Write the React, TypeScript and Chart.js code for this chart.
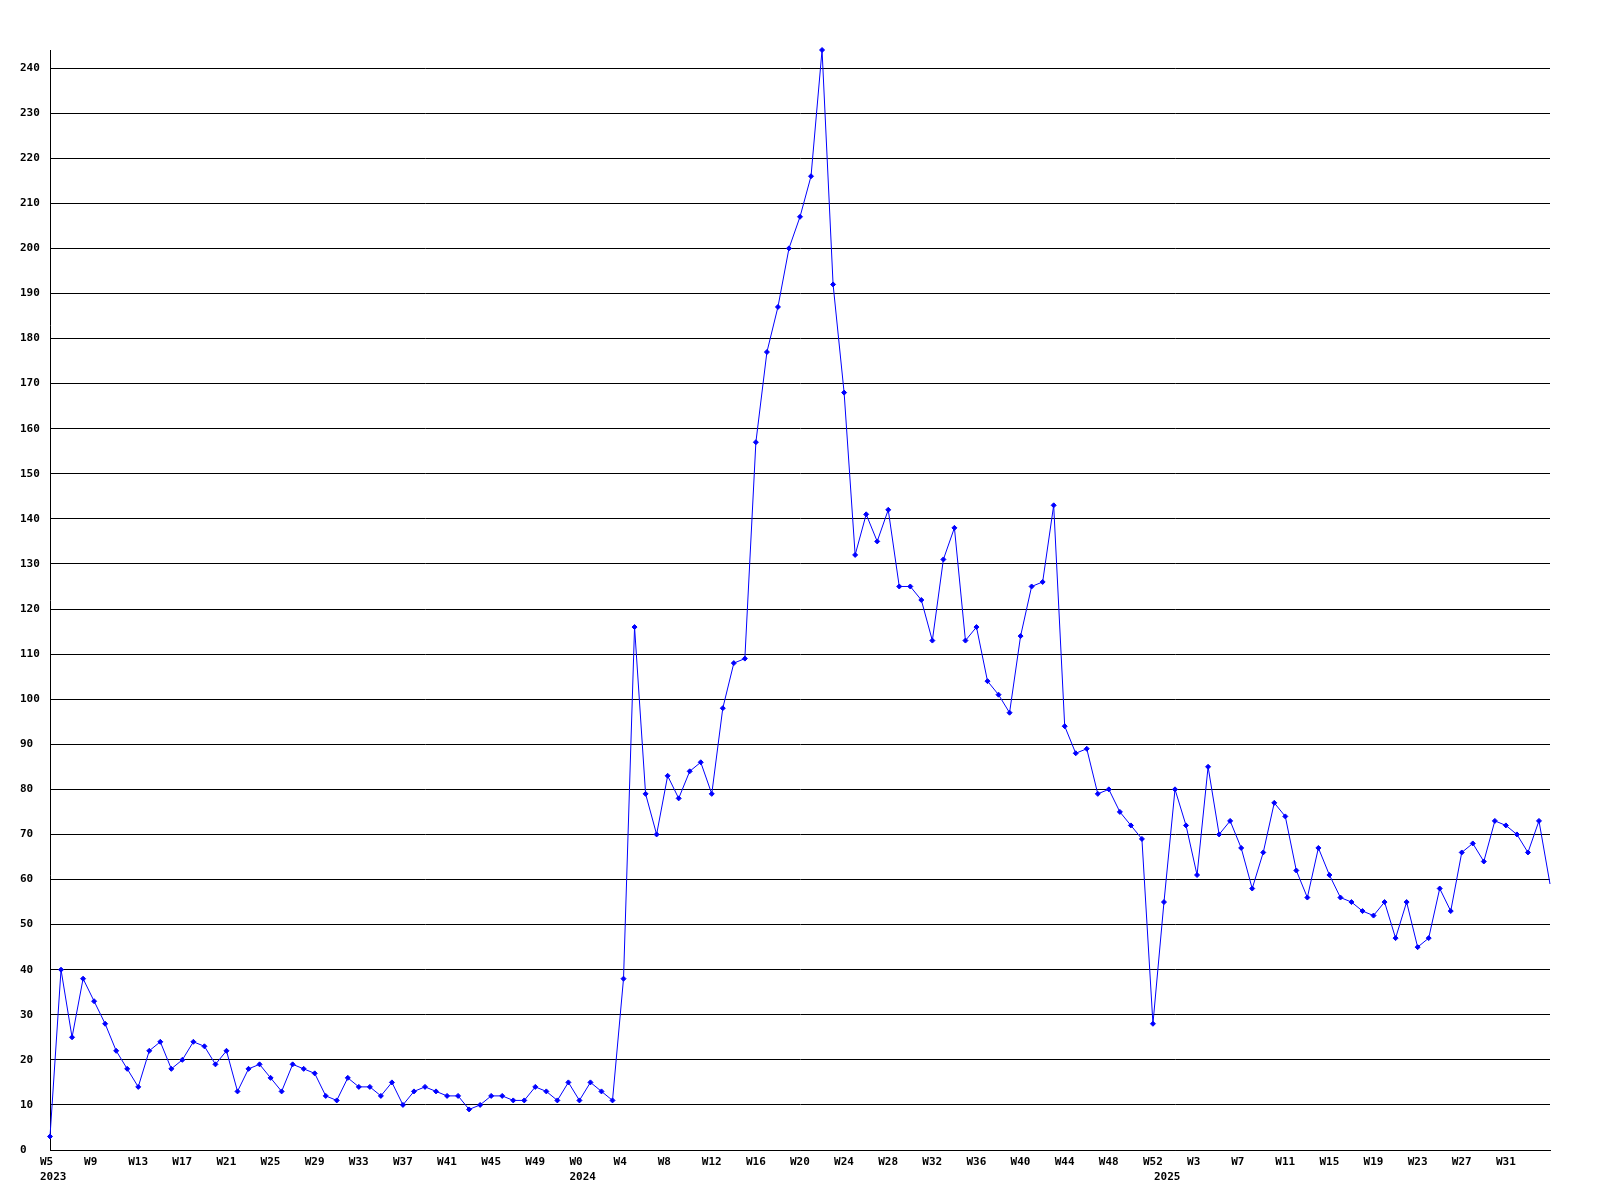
import { useEffect, useRef } from 'react';
import { Chart, registerables, CategoryScale } from 'chart.js';

Chart.register(...registerables);

// Week numbers per year (one point per week)
const weeks2023 = [5, 6, 7, 8, 9, 10, 11, 12, 13, 14, 15, 16, 17, 18, 19, 20, 21, 22, 23, 24, 25, 26, 27, 28, 29, 30, 31, 32, 33, 34, 35, 36, 37, 38, 39, 40, 41, 42, 43, 44, 45, 46, 47, 48, 49, 50, 51, 52];
const weeks2024 = [0, 1, 2, 3, 4, 5, 6, 7, 8, 9, 10, 11, 12, 13, 14, 15, 16, 17, 18, 19, 20, 21, 22, 23, 24, 25, 26, 27, 28, 29, 30, 31, 32, 33, 34, 35, 36, 37, 38, 39, 40, 41, 42, 43, 44, 45, 46, 47, 48, 49, 50, 51, 52];
const weeks2025 = [0, 1, 2, 3, 4, 5, 6, 7, 8, 9, 10, 11, 12, 13, 14, 15, 16, 17, 18, 19, 20, 21, 22, 23, 24, 25, 26, 27, 28, 29, 30, 31, 32, 33, 34, 35];

const years = ['2023', '2024', '2025'];

const values2023 = [3, 40, 25, 38, 33, 28, 22, 18, 14, 22, 24, 18, 20, 24, 23, 19, 22, 13, 18, 19, 16, 13, 19, 18, 17, 12, 11, 16, 14, 14, 12, 15, 10, 13, 14, 13, 12, 12, 9, 10, 12, 12, 11, 11, 14, 13, 11, 15];
const values2024 = [11, 15, 13, 11, 38, 116, 79, 70, 83, 78, 84, 86, 79, 98, 108, 109, 157, 177, 187, 200, 207, 216, 244, 192, 168, 132, 141, 135, 142, 125, 125, 122, 113, 131, 138, 113, 116, 104, 101, 97, 114, 125, 126, 143, 94, 88, 89, 79, 80, 75, 72, 69, 28];
const values2025 = [55, 80, 72, 61, 85, 70, 73, 67, 58, 66, 77, 74, 62, 56, 67, 61, 56, 55, 53, 52, 55, 47, 55, 45, 47, 58, 53, 66, 68, 64, 73, 72, 70, 66, 73, 59];

const yMax = 244;
const yStep = 10;
const labelEvery = 4;

const weekBlocks = [weeks2023, weeks2024, weeks2025];
const categories: string[] = [];
const weekOfIndex: number[] = [];
const yearStartLabel: Record<number, string> = {};
weekBlocks.forEach((block, bi) => {
  yearStartLabel[categories.length] = years[bi];
  block.forEach((w) => {
    categories.push(`${years[bi]}-W${w}`);
    weekOfIndex.push(w);
  });
});
const values = [...values2023, ...values2024, ...values2025];
const lastIndex = values.length - 1;

class ShiftedCategoryScale extends CategoryScale {
  static id = 'shiftedCategory';
  static defaults = (CategoryScale as any).defaults;
  _computeLabelItems(chartArea: any) {
    const items = (super._computeLabelItems as any)(chartArea);
    for (const it of items) {
      const t = it.options.translation;
      it.options.translation = [t[0] - 10, t[1]];
    }
    return items;
  }
}
Chart.register(ShiftedCategoryScale as any);

const font = {
  family: '"DejaVu Sans Mono", "Liberation Mono", monospace',
  size: 11,
  weight: 'bold' as const,
  lineHeight: '15px',
};

export default function App() {
  const ref = useRef<HTMLCanvasElement | null>(null);
  useEffect(() => {
    document.body.style.margin = '0';
    const canvas = ref.current;
    if (!canvas) return;
    const chart = new Chart(canvas, {
      type: 'line',
      data: {
        labels: categories,
        datasets: [
          {
            data: values,
            borderColor: '#0000ff',
            backgroundColor: '#0000ff',
            borderWidth: 1,
            tension: 0,
            fill: false,
            pointStyle: 'rectRot',
            pointRadius: (ctx: any) => (ctx.dataIndex === lastIndex ? 0 : 2.5),
            pointBorderWidth: 1,
            pointBackgroundColor: '#0000ff',
            pointBorderColor: '#0000ff',
            clip: false as any,
          },
        ],
      },
      options: {
        animation: false,
        responsive: false,
        maintainAspectRatio: false,
        devicePixelRatio: 1,
        layout: { padding: { top: 50, right: 50, left: 20, bottom: 0 } },
        plugins: { legend: { display: false }, tooltip: { enabled: false }, title: { display: false } },
        scales: {
          x: {
            type: 'shiftedCategory' as any,
            offset: false,
            grid: { display: false, drawTicks: false },
            border: { display: true, color: '#000000', width: 1 },
            ticks: {
              autoSkip: false,
              maxRotation: 0,
              minRotation: 0,
              align: 'start',
              padding: 5,
              color: '#000000',
              font,
              callback: (_v: any, i: number) => {
                const lines: string[] = [];
                const wk = i % labelEvery === 0 && i !== lastIndex ? `W${weekOfIndex[i]}` : '';
                const yr = yearStartLabel[i];
                if (yr) return [wk, yr];
                return wk;
              },
            },
            afterFit: (scale: any) => {
              scale.height = 50;
            },
          } as any,
          y: {
            type: 'linear',
            min: 0,
            max: yMax,
            grid: { display: true, color: '#000000', lineWidth: 1, drawTicks: false },
            border: { display: true, color: '#000000', width: 1 },
            ticks: {
              stepSize: yStep,
              includeBounds: false,
              crossAlign: 'far',
              padding: 10,
              color: '#000000',
              font,
            },
            afterFit: (scale: any) => {
              scale.width = 30;
            },
          } as any,
        },
      },
    });
    return () => chart.destroy();
  }, []);
  return (
    <div style={{ position: 'absolute', left: 0, top: 0, width: 1600, height: 1200, background: '#fff' }}>
      <canvas ref={ref} width={1600} height={1200} style={{ width: 1600, height: 1200, display: 'block' }} />
    </div>
  );
}
